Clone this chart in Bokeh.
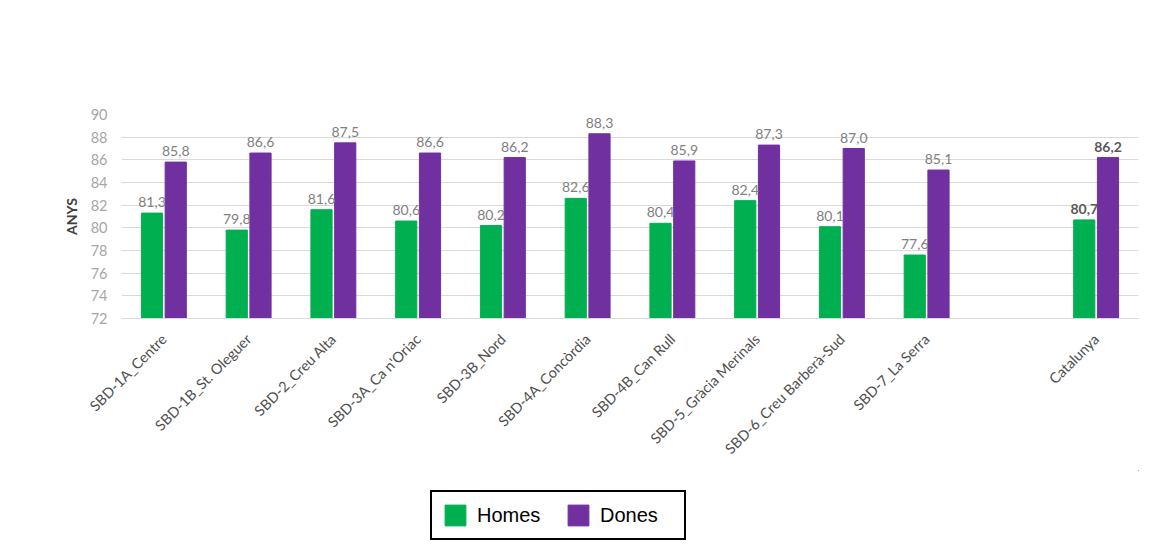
from bokeh.plotting import figure
from bokeh.layouts import column
from bokeh.models import Legend, LegendItem, FixedTicker, ColumnDataSource, Range1d
from bokeh.core.properties import value
from bokeh.embed import file_html
from bokeh.resources import INLINE
import math

categories = ["SBD-1A_Centre", "SBD-1B_St. Oleguer", "SBD-2_Creu Alta", "SBD-3A_Ca n'Oriac",
              "SBD-3B_Nord", "SBD-4A_Concòrdia", "SBD-4B_Can Rull", "SBD-5_Gràcia Merinals",
              "SBD-6_Creu Barberà-Sud", "SBD-7_La Serra", "Catalunya"]
positions = [0, 1, 2, 3, 4, 5, 6, 7, 8, 9, 11]
homes = [81.3, 79.8, 81.6, 80.6, 80.2, 82.6, 80.4, 82.4, 80.1, 77.6, 80.7]
dones = [85.8, 86.6, 87.5, 86.6, 86.2, 88.3, 85.9, 87.3, 87.0, 85.1, 86.2]
y_ticks = [72, 74, 76, 78, 80, 82, 84, 86, 88, 90]

GREEN = "#00B050"
PURPLE = "#7030A0"
FONT = "Lato"

def fmt(v):
    return f"{v:.1f}".replace(".", ",")

off = 0.14
bw = 0.25

src_h = ColumnDataSource(dict(x=[p - off for p in positions[:-1]], top=homes[:-1],
                              lab=[fmt(v) for v in homes[:-1]]))
src_d = ColumnDataSource(dict(x=[p + off for p in positions[:-1]], top=dones[:-1],
                              lab=[fmt(v) for v in dones[:-1]]))
src_cat_h = ColumnDataSource(dict(x=[positions[-1] - off], top=[homes[-1]], lab=[fmt(homes[-1])]))
src_cat_d = ColumnDataSource(dict(x=[positions[-1] + off], top=[dones[-1]], lab=[fmt(dones[-1])]))

W = 1169
p = figure(width=W, height=470, output_backend="svg", toolbar_location=None,
           x_range=Range1d(-0.5, 11.5), y_range=Range1d(72, 90),
           min_border_left=121, min_border_right=31, min_border_top=114, min_border_bottom=152)
p.outline_line_color = None
p.background_fill_color = "white"
p.border_fill_color = "white"

for s in (src_h, src_cat_h):
    p.vbar(x="x", top="top", bottom=72, width=bw, source=s, fill_color=GREEN, line_color=GREEN)
for s in (src_d, src_cat_d):
    p.vbar(x="x", top="top", bottom=72, width=bw, source=s, fill_color=PURPLE, line_color=PURPLE)

for s in (src_h, src_d):
    p.text(x="x", y="top", text="lab", source=s, text_align="center", text_baseline="bottom",
           y_offset=-6, text_font=value(FONT), text_font_size="14px", text_color="#808080")
for s in (src_cat_h, src_cat_d):
    p.text(x="x", y="top", text="lab", source=s, text_align="center", text_baseline="bottom",
           y_offset=-6, text_font=value(FONT), text_font_size="14px", text_color="#595959",
           text_font_style="bold")

p.xgrid.grid_line_color = None
p.ygrid.grid_line_color = "#d9d9d9"
p.ygrid.ticker = FixedTicker(ticks=y_ticks)

p.yaxis.ticker = FixedTicker(ticks=y_ticks)
p.yaxis.axis_line_color = None
p.yaxis.major_tick_line_color = None
p.yaxis.minor_tick_line_color = None
p.yaxis.major_label_text_font = FONT
p.yaxis.major_label_text_font_size = "14.5px"
p.yaxis.major_label_text_color = "#a6a6a6"
p.yaxis.major_label_standoff = 8
p.yaxis.axis_label = "ANYS"
p.yaxis.axis_label_text_font = FONT
p.yaxis.axis_label_text_font_size = "14px"
p.yaxis.axis_label_text_font_style = "bold"
p.yaxis.axis_label_text_color = "#404040"
p.yaxis.axis_label_standoff = 8

p.xaxis.ticker = FixedTicker(ticks=positions)
p.xaxis.major_label_overrides = {pos: c for pos, c in zip(positions, categories)}
p.xaxis.major_label_orientation = math.pi / 4
p.xaxis.axis_line_color = "#d9d9d9"
p.xaxis.major_tick_line_color = None
p.xaxis.minor_tick_line_color = None
p.xaxis.major_label_text_font = FONT
p.xaxis.major_label_text_font_size = "14.5px"
p.xaxis.major_label_text_color = "#505050"
p.xaxis.major_label_standoff = 12

# legend strip
lg = figure(width=W, height=82, output_backend="svg", toolbar_location=None,
            x_range=Range1d(0, 1), y_range=Range1d(0, 1),
            x_axis_location=None, y_axis_location=None,
            min_border_left=0, min_border_right=0, min_border_top=0, min_border_bottom=0)
lg.outline_line_color = None
lg.xgrid.visible = False
lg.ygrid.visible = False
lg.background_fill_color = "white"
rh = lg.vbar(x=[5], top=[5], bottom=[4], width=0.1, fill_color=GREEN, line_color=GREEN)
rd = lg.vbar(x=[5], top=[5], bottom=[4], width=0.1, fill_color=PURPLE, line_color=PURPLE)
legend = Legend(items=[LegendItem(label="Homes", renderers=[rh]),
                       LegendItem(label="Dones", renderers=[rd])],
                orientation="horizontal", location=(309, 12),
                border_line_color="black", border_line_width=2, border_line_alpha=1.0,
                label_text_font="Liberation Sans", label_text_font_size="20px",
                label_text_color="black", glyph_width=26, glyph_height=26,
                label_width=74, spacing=14, padding=10, label_standoff=9, margin=0,
                background_fill_alpha=1)
lg.add_layout(legend, "center")

open("out.html", "w").write(file_html(column(p, lg, spacing=0), INLINE))
